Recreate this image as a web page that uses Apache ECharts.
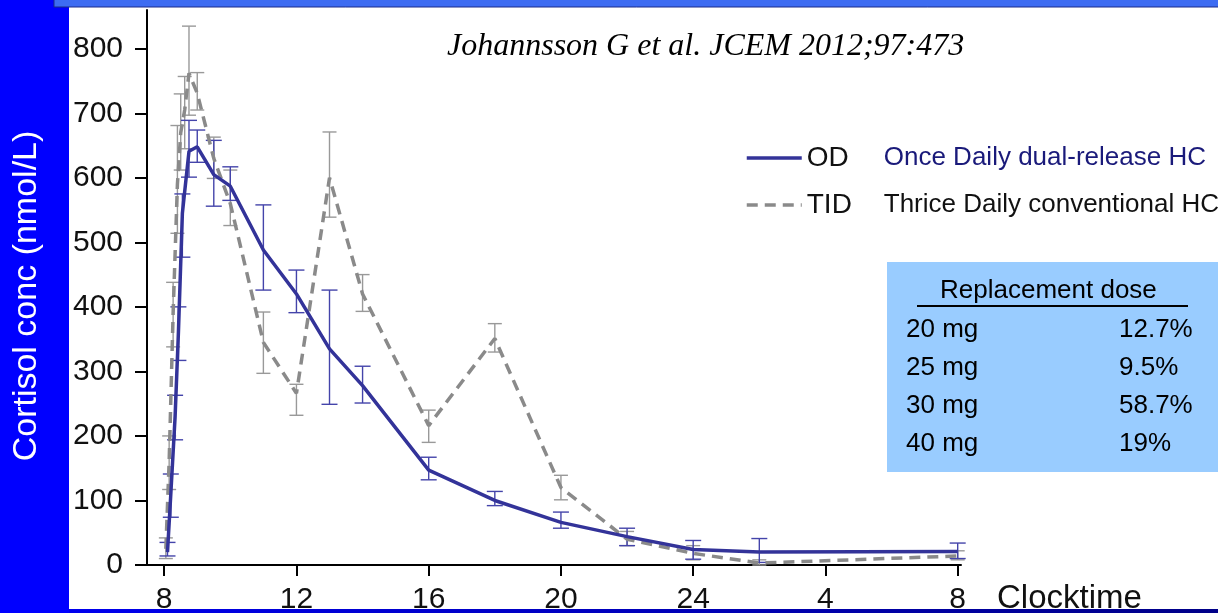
<!DOCTYPE html>
<html>
<head>
<meta charset="utf-8">
<script src="https://cdn.jsdelivr.net/npm/echarts@6/dist/echarts.min.js"></script>
<style>
  html, body { margin: 0; padding: 0; background: #fff; }
  #chart { width: 1218px; height: 613px; }
</style>
</head>
<body>
<div id="chart"></div>
<script>
// Serum cortisol profiles, hours on a 24 h clock (32 = 08:00 next morning)
const timeOD = [8.1, 8.2, 8.33, 8.43, 8.55, 8.75, 9.0, 9.5, 10, 11, 12, 13, 14, 16, 18, 20, 22, 24, 26, 32];
const meanOD = [20, 110, 230, 360, 545, 641, 648, 605, 587, 488, 420, 335, 278, 147, 100, 66, 44, 24, 20, 21];
const lowOD  = [14, 74, 194, 317, 477, 601, 624, 556, 565, 426, 391, 249, 251, 132, 92, 57, 30, 9, 4, 10];
const highOD = [35, 141, 263, 400, 575, 689, 674, 658, 617, 558, 457, 426, 308, 167, 114, 82, 57, 38, 41, 34];

const timeTID = [8.05, 8.15, 8.27, 8.4, 8.5, 8.62, 8.75, 9.0, 9.5, 10, 11, 12, 13, 14, 16, 18, 20, 22, 24, 26, 32];
const meanTID = [25, 160, 390, 590, 670, 705, 762, 731, 630, 560, 345, 266, 600, 420, 216, 351, 120, 40, 18, 3, 14];
const lowTID  = [10, 117, 338, 514, 612, 645, 697, 705, 599, 526, 297, 232, 539, 393, 190, 330, 101, 30, 8, 0, 8];
const highTID = [42, 200, 438, 681, 730, 757, 835, 763, 663, 612, 392, 280, 671, 450, 240, 374, 139, 52, 30, 8, 22];

const tickHours  = [8, 12, 16, 20, 24, 28, 32];
const tickLabels = ['8', '12', '16', '20', '24', '4', '8'];
const yTicks     = [0, 100, 200, 300, 400, 500, 600, 700, 800];

const legendKeys = ['OD', 'TID'];
const legendDescriptions = ['Once Daily dual-release HC', 'Thrice Daily conventional HC'];

const yTitle = 'Cortisol conc (nmol/L)';
const doseTitle = 'Replacement dose';
const doseRows = ['20 mg', '25 mg', '30 mg', '40 mg'];
const dosePercents = ['12.7%', '9.5%', '58.7%', '19%'];

const citation = 'Johannsson G et al. JCEM 2012;97:473';

const OD_COLOR = '#333399';
const TID_COLOR = '#8a8a8a';
const FONT = 'Liberation Sans, Arial, sans-serif';

const zip2 = (a, b) => a.map((v, i) => [v, b[i]]);
const zip3 = (a, b, c) => a.map((v, i) => [v, b[i], c[i]]);

function errorBars(color, capHalf) {
  return function (params, api) {
    const x = api.value(0);
    const top = api.coord([x, api.value(2)]);
    const bot = api.coord([x, api.value(1)]);
    const style = { stroke: color, lineWidth: 1.4 };
    return {
      type: 'group',
      children: [
        { type: 'line', shape: { x1: top[0], y1: top[1], x2: bot[0], y2: bot[1] }, style },
        { type: 'line', shape: { x1: top[0] - capHalf, y1: top[1], x2: top[0] + capHalf, y2: top[1] }, style },
        { type: 'line', shape: { x1: bot[0] - capHalf, y1: bot[1], x2: bot[0] + capHalf, y2: bot[1] }, style }
      ]
    };
  };
}

// Dose distribution panel
const tableTexts = [];
tableTexts.push({
  type: 'text', left: 940, top: 278,
  style: { text: doseTitle, fontSize: 26, fontFamily: FONT, fill: '#000' }
});
doseRows.forEach((row, i) => {
  tableTexts.push({
    type: 'text', left: 906, top: 317 + i * 38,
    style: { text: row, fontSize: 26, fontFamily: FONT, fill: '#000' }
  });
  tableTexts.push({
    type: 'text', left: 1119, top: 317 + i * 38,
    style: { text: dosePercents[i], fontSize: 26, fontFamily: FONT, fill: '#000' }
  });
});

const chart = echarts.init(document.getElementById('chart'), null, { renderer: 'canvas' });

chart.setOption({
  backgroundColor: '#ffffff',
  animation: false,
  grid: { left: 147, right: 257, top: 10, bottom: 48, outerBoundsMode: 'none', containLabel: false },
  xAxis: {
    type: 'value',
    min: 7.48,
    max: 32.1,
    name: 'Clocktime',
    nameLocation: 'end',
    nameGap: 36,
    nameTextStyle: { fontSize: 33, fontFamily: FONT, color: '#111', verticalAlign: 'top', padding: [17, 0, 0, 0] },
    axisLine: { onZero: false, lineStyle: { color: '#000', width: 2 } },
    axisTick: { customValues: tickHours, length: 11, lineStyle: { color: '#000', width: 2 } },
    axisLabel: {
      customValues: tickHours,
      margin: 20,
      fontSize: 30,
      fontFamily: FONT,
      color: '#111',
      formatter: v => {
        const i = tickHours.indexOf(v);
        return i >= 0 ? tickLabels[i] : '';
      }
    },
    splitLine: { show: false }
  },
  yAxis: {
    type: 'value',
    min: 0,
    max: 860,
    axisLine: { show: true, lineStyle: { color: '#000', width: 2 } },
    axisTick: { show: true, customValues: yTicks, length: 12, lineStyle: { color: '#000', width: 2 } },
    axisLabel: { customValues: yTicks, margin: 24, fontSize: 30, fontFamily: FONT, color: '#111' },
    splitLine: { show: false }
  },
  legend: {
    data: legendKeys,
    orient: 'vertical',
    left: 745,
    top: 144,
    padding: 0,
    itemWidth: 55,
    itemHeight: 14,
    itemGap: 19,
    selectedMode: false,
    itemStyle: { opacity: 0, borderWidth: 0 },
    lineStyle: { width: 3.5 },
    formatter: name => {
      const i = legendKeys.indexOf(name);
      return '{k|' + name + '}' + (i === 0 ? '{d|' : '{e|') + legendDescriptions[i] + '}';
    },
    textStyle: {
      rich: {
        k: { fontSize: 28, fontFamily: FONT, color: '#111', width: 77, lineHeight: 30 },
        d: { fontSize: 26, fontFamily: FONT, color: '#1a1a7a', lineHeight: 30 },
        e: { fontSize: 26, fontFamily: FONT, color: '#111', lineHeight: 30 }
      }
    }
  },
  series: [
    {
      name: 'TID error',
      type: 'custom',
      renderItem: errorBars('#999999', 7),
      encode: { x: 0, y: [1, 2] },
      data: zip3(timeTID, lowTID, highTID),
      z: 1
    },
    {
      name: 'OD error',
      type: 'custom',
      renderItem: errorBars('#4444aa', 8),
      encode: { x: 0, y: [1, 2] },
      data: zip3(timeOD, lowOD, highOD),
      z: 2
    },
    {
      name: 'TID',
      type: 'line',
      data: zip2(timeTID, meanTID),
      symbol: 'none',
      color: TID_COLOR,
      lineStyle: { color: TID_COLOR, width: 3.5, type: [11, 7] },
      z: 3
    },
    {
      name: 'OD',
      type: 'line',
      data: zip2(timeOD, meanOD),
      symbol: 'none',
      color: OD_COLOR,
      lineStyle: { color: OD_COLOR, width: 3.5 },
      z: 4
    }
  ],
  graphic: [
    // slide frame: left panel, top strip, bottom strip
    { type: 'rect', z: -10, shape: { x: 0, y: 0, width: 69, height: 613 }, style: { fill: '#0000ff' } },
    { type: 'rect', z: -10, shape: { x: 54, y: -1, width: 1170, height: 8 }, style: { fill: '#3d6cf2', stroke: '#1a2a8a', lineWidth: 1 } },
    {
      type: 'rect', z: -10, shape: { x: 69, y: 609, width: 1149, height: 4 },
      style: { fill: new echarts.graphic.LinearGradient(0, 0, 1, 0, [{ offset: 0, color: '#0000ee' }, { offset: 1, color: '#000088' }]) }
    },
    {
      type: 'text', z: 5, x: 27, y: 296, rotation: Math.PI / 2,
      style: { text: yTitle, fontSize: 34, fontFamily: FONT, fill: '#ffffff', align: 'center', verticalAlign: 'middle' }
    },
    {
      type: 'text', left: 447, top: 31,
      style: { text: citation, fontSize: 32, fontFamily: 'Liberation Serif, Times New Roman, serif', fontStyle: 'italic', fill: '#000' }
    },
    { type: 'rect', shape: { x: 887, y: 262, width: 340, height: 210 }, style: { fill: '#99ccff' } },
    { type: 'line', shape: { x1: 917, y1: 306, x2: 1188, y2: 306 }, style: { stroke: '#000', lineWidth: 2 } },
    ...tableTexts
  ]
});
</script>
</body>
</html>
